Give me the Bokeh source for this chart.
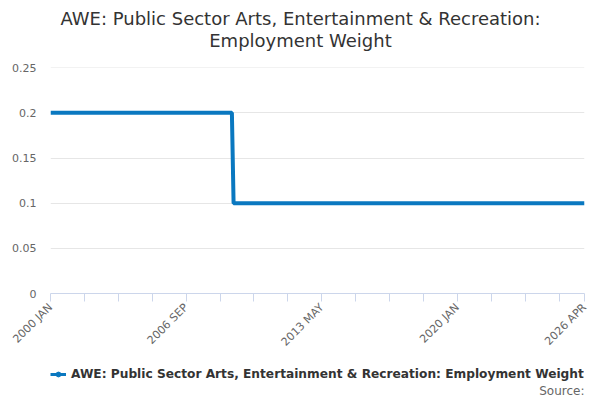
from bokeh.plotting import figure
from bokeh.models import (FixedTicker, Range1d, Legend, LegendItem, ColumnDataSource, Label)
from bokeh.layouts import column
from bokeh.embed import file_html
from bokeh.resources import INLINE
import math

# ---- data ----
start_year = 2000
start_month = 1
point_dates = [(2000, 1), (2008, 12), (2009, 1), (2026, 4)]
point_values = [0.2, 0.2, 0.1, 0.1]
x_tick_labels = ["2000 JAN", "2006 SEP", "2013 MAY", "2020 JAN", "2026 APR"]
y_ticks = [0, 0.05, 0.1, 0.15, 0.2, 0.25]
y_tick_labels = ["0", "0.05", "0.1", "0.15", "0.2", "0.25"]
series_name = "AWE: Public Sector Arts, Entertainment & Recreation: Employment Weight"
title_lines = ["AWE: Public Sector Arts, Entertainment & Recreation:", "Employment Weight"]
source_text = "Source:"

MONTHS = ["JAN", "FEB", "MAR", "APR", "MAY", "JUN", "JUL", "AUG", "SEP", "OCT", "NOV", "DEC"]

def month_index(y, m):
    return (y - start_year) * 12 + (m - start_month)

def label_index(lbl):
    y, mon = lbl.split()
    return month_index(int(y), MONTHS.index(mon) + 1)

xs = [month_index(y, m) for (y, m) in point_dates]
x_end = label_index(x_tick_labels[-1])

FONT = "DejaVu Sans"
COLOR = "#0a78c0"
FRAME_L, FRAME_R = 50, 584

def strip(h):
    # frames of the column's plots are aligned to the main chart frame (50..584)
    f = figure(width=600, height=h, output_backend="svg", toolbar_location=None,
               x_range=Range1d(FRAME_L, FRAME_R), y_range=Range1d(0, h),
               x_axis_location=None, y_axis_location=None,
               min_border_left=FRAME_L, min_border_right=600 - FRAME_R,
               min_border_top=0, min_border_bottom=0)
    f.grid.visible = False
    f.outline_line_color = None
    f.title.visible = False
    f.background_fill_color = "white"
    f.border_fill_color = "white"
    return f

# ---- top strip: title ----
t = strip(60)
for line, yy in zip(title_lines, [42, 20]):
    t.add_layout(Label(x=300, y=yy, text=line, text_align="center", text_baseline="middle",
                       text_font=FONT, text_font_size="18px", text_color="#333333"))

# ---- main chart ----
p = figure(frame_width=FRAME_R - FRAME_L, frame_height=226, output_backend="svg",
           toolbar_location=None, x_range=Range1d(0, x_end), y_range=Range1d(0, 0.2502),
           min_border_left=FRAME_L, min_border_right=600 - FRAME_R, min_border_top=7,
           min_border_bottom=57)
p.outline_line_color = None
p.background_fill_color = "white"
p.border_fill_color = "white"
p.title.visible = False

src = ColumnDataSource(dict(x=xs, y=point_values))
r = p.line("x", "y", source=src, line_color=COLOR, line_width=4)

label_pos = [label_index(l) for l in x_tick_labels]
step = (label_pos[1] - label_pos[0]) // 4
all_ticks = sorted(set(list(range(0, x_end + 1, step)) + [x_end]))
p.xaxis.ticker = FixedTicker(ticks=all_ticks)
overrides = {tk: "" for tk in all_ticks}
for l, tk in zip(x_tick_labels, label_pos):
    overrides[tk] = l
p.xaxis.major_label_overrides = overrides
p.xaxis.major_label_orientation = math.pi / 4
p.xaxis.axis_line_color = "#ccd6eb"
p.xaxis.major_tick_line_color = "#ccd6eb"
p.xaxis.major_tick_in = 0
p.xaxis.major_tick_out = 8
p.xaxis.minor_tick_line_color = None
p.xaxis.major_label_text_font = FONT
p.xaxis.major_label_text_font_size = "11px"
p.xaxis.major_label_text_color = "#666666"
p.xaxis.major_label_standoff = 4
p.xgrid.grid_line_color = None

p.yaxis.ticker = FixedTicker(ticks=y_ticks)
p.yaxis.major_label_overrides = {tk: l for tk, l in zip(y_ticks, y_tick_labels)}
p.yaxis.axis_line_color = None
p.yaxis.major_tick_line_color = None
p.yaxis.minor_tick_line_color = None
p.yaxis.major_label_text_font = FONT
p.yaxis.major_label_text_font_size = "11px"
p.yaxis.major_label_text_color = "#666666"
p.yaxis.major_label_standoff = 8
p.ygrid.grid_line_color = "#e6e6e6"

# ---- bottom strip: legend + source ----
b = strip(45)
lr = b.line("x", "y", source=src, line_color=COLOR, line_width=3, visible=False)
mr = b.scatter("x", "y", source=src, marker="circle", size=4, fill_color=COLOR,
               line_color=COLOR, visible=False)

legend = Legend(items=[LegendItem(label=series_name, renderers=[lr, mr])],
                location=(0, 20), orientation="horizontal", label_text_font=FONT,
                label_text_font_size="12.2px", label_text_font_style="bold",
                label_text_color="#333333", border_line_color=None,
                background_fill_alpha=0, glyph_width=16, glyph_height=12,
                padding=0, margin=0, label_standoff=5, click_policy="none")
b.add_layout(legend, "center")

b.add_layout(Label(x=FRAME_R, y=11, text=source_text, text_align="right",
                   text_baseline="middle", text_font=FONT, text_font_size="12px",
                   text_color="#666666"))

layout = column(t, p, b, spacing=0)
open("out.html", "w").write(file_html(layout, INLINE))
